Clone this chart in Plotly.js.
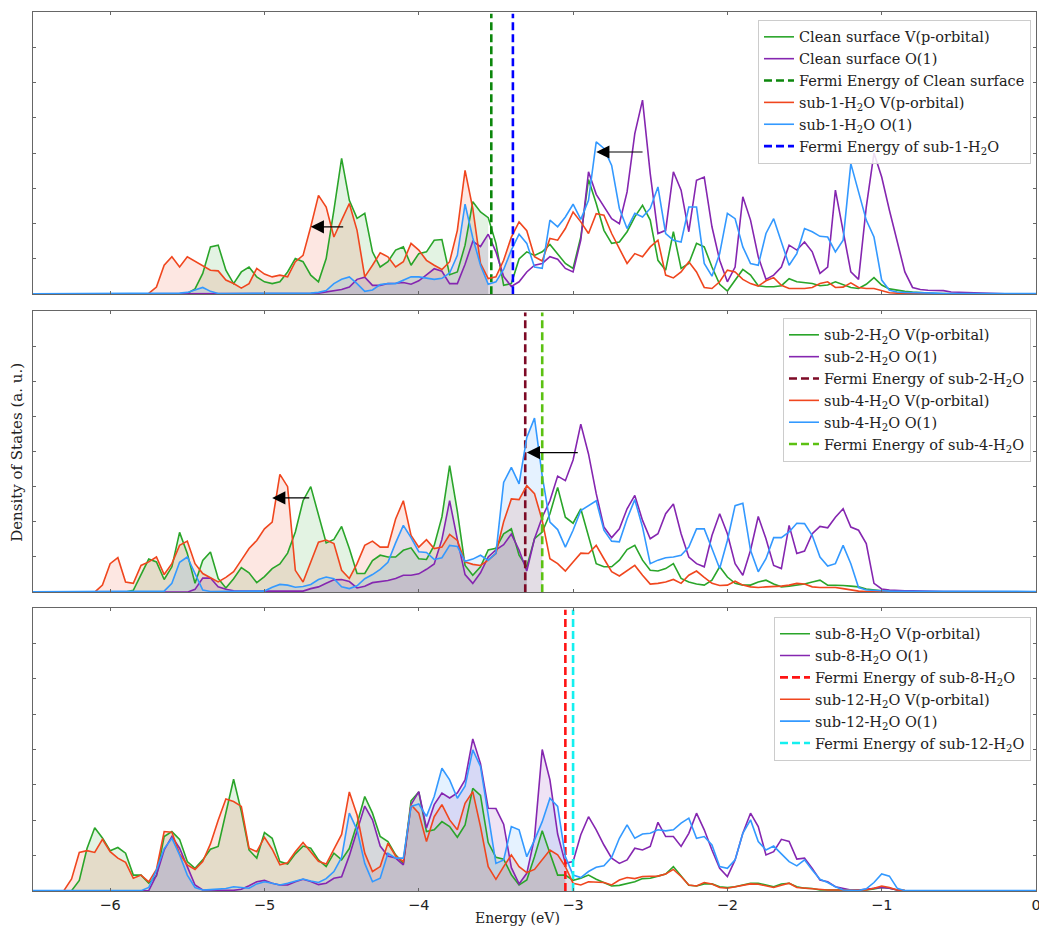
<!DOCTYPE html>
<html><head><meta charset="utf-8">
<script src="https://cdn.plot.ly/plotly-3.0.1.min.js"></script>
<style>html,body{margin:0;padding:0;background:#fff;overflow:hidden}#chart{width:1039px;height:926px}</style>
</head><body><div id="chart"></div>
<script>
// ---------- energy grid (eV) ----------
const energy = [
-6.50,-6.45,-6.40,-6.35,-6.30,-6.25,-6.20,-6.15,-6.10,-6.05,
-6.00,-5.95,-5.90,-5.85,-5.80,-5.75,-5.70,-5.65,-5.60,-5.55,
-5.50,-5.45,-5.40,-5.35,-5.30,-5.25,-5.20,-5.15,-5.10,-5.05,
-5.00,-4.95,-4.90,-4.85,-4.80,-4.75,-4.70,-4.65,-4.60,-4.55,
-4.50,-4.45,-4.40,-4.35,-4.30,-4.25,-4.20,-4.15,-4.10,-4.05,
-4.00,-3.95,-3.90,-3.85,-3.80,-3.75,-3.70,-3.65,-3.60,-3.55,
-3.50,-3.45,-3.40,-3.35,-3.30,-3.25,-3.20,-3.15,-3.10,-3.05,
-3.00,-2.95,-2.90,-2.85,-2.80,-2.75,-2.70,-2.65,-2.60,-2.55,
-2.50,-2.45,-2.40,-2.35,-2.30,-2.25,-2.20,-2.15,-2.10,-2.05,
-2.00,-1.95,-1.90,-1.85,-1.80,-1.75,-1.70,-1.65,-1.60,-1.55,
-1.50,-1.45,-1.40,-1.35,-1.30,-1.25,-1.20,-1.15,-1.10,-1.05,
-1.00,-0.95,-0.90,-0.85,-0.80,-0.75,-0.70,-0.65,-0.60,-0.55,
-0.50,-0.45,-0.40,-0.35,-0.30,-0.25,-0.20,-0.15,-0.10,-0.05,
0.00];

// ---------- Panel 1: clean surface vs sub-1-H2O ----------
const cleanV = [
0,0,0,0,0,0,0,0,0,0,
0,0,0,0,0,0,0,0,0,0,
0.02,0.15,0.59,1.34,1.39,0.68,0.30,0.63,0.77,0.49,
0.35,0.30,0.35,0.63,1.01,0.92,0.54,0.35,1.01,2.38,
3.85,2.66,2.15,2.29,1.20,0.77,0.92,1.25,1.34,0.82,
1.15,1.20,1.53,1.55,0.55,0.63,1.39,2.62,2.33,2.17,
1.44,0.25,0.30,1.00,1.20,1.10,1.20,1.41,1.15,0.87,
0.73,1.62,3.25,2.57,1.81,1.44,1.48,1.77,2.19,2.52,
2.10,0.96,0.68,1.77,0.73,0.87,1.44,1.34,0.77,0.28,
0.09,0.40,0.70,0.54,0.24,0.21,0.21,0.24,0.44,0.35,
0.32,0.30,0.24,0.26,0.35,0.26,0.19,0.16,0.28,0.47,
0.26,0.15,0.11,0.08,0.06,0.04,0.03,0.02,0.02,0.01,
0.01,0.01,0,0,0,0,0,0,0,0,
0];
const cleanO = [
0,0,0,0,0,0,0,0,0,0,
0,0,0,0,0,0,0,0,0,0,
0.01,0.01,0.02,0.02,0.01,0.01,0.01,0.01,0.01,0.01,
0.01,0.01,0.01,0.01,0.01,0.01,0.02,0.03,0.06,0.11,
0.13,0.20,0.42,0.48,0.25,0.25,0.30,0.31,0.33,0.28,
0.38,0.55,0.72,0.65,0.30,0.30,0.85,1.50,1.35,1.70,
1.20,0.50,0.22,0.35,0.63,0.82,0.87,1.06,0.99,0.73,
0.63,1.53,3.47,2.83,2.47,2.14,2.00,2.90,4.55,5.50,
3.42,1.72,1.81,3.47,2.95,1.77,3.23,3.32,1.91,0.96,
0.35,0.77,2.76,2.10,1.06,0.42,0.54,0.77,1.39,1.25,
1.48,1.20,0.59,0.77,2.95,1.81,0.63,0.42,2.47,4.00,
3.32,2.38,1.53,0.63,0.19,0.13,0.11,0.11,0.10,0.06,
0.05,0.04,0.05,0.03,0.02,0.02,0.01,0.01,0.01,0.01,
0.01];
const sub1V = [
0,0,0,0,0,0,0,0,0,0,
0,0,0,0,0,0.02,0.20,0.82,1.06,0.77,
1.06,0.94,0.82,0.68,0.66,0.40,0.30,0.17,0.30,0.73,
0.57,0.49,0.54,0.49,0.92,1.10,1.91,2.80,2.47,1.62,
2.10,2.57,1.81,0.49,0.82,1.17,1.06,0.77,0.92,1.44,
1.25,0.96,0.82,0.70,0.92,1.81,3.51,2.43,0.87,0.44,
0.49,0.96,1.62,2.05,1.80,1.06,0.94,1.58,1.53,1.86,
2.33,2.05,1.72,2.28,2.24,1.72,1.29,0.87,1.15,1.06,
1.34,1.53,0.54,0.46,0.63,0.92,0.63,0.19,0.16,0.35,
0.68,0.63,0.42,0.30,0.23,0.38,0.47,0.25,0.16,0.16,
0.16,0.19,0.30,0.35,0.19,0.20,0.32,0.19,0.16,0.16,
0.09,0.04,0.03,0.02,0.02,0.01,0.01,0,0,0,
0,0,0,0,0,0,0,0,0,0,
0];
const sub1O = [
0.01,0.01,0.01,0.01,0.01,0.01,0.01,0.01,0.01,0.01,
0.01,0.01,0.01,0.01,0.01,0.01,0.01,0.01,0.02,0.03,
0.05,0.12,0.19,0.08,0.02,0.02,0.02,0.02,0.02,0.02,
0.02,0.02,0.02,0.02,0.02,0.02,0.03,0.05,0.10,0.30,
0.42,0.49,0.30,0.08,0.12,0.27,0.30,0.30,0.40,0.49,
0.49,0.45,0.42,0.45,0.60,1.10,2.55,1.60,0.82,0.28,
0.35,0.70,1.25,1.70,1.44,0.77,0.73,2.10,1.91,2.19,
2.55,2.12,2.66,4.32,4.13,3.65,2.43,1.86,2.29,2.19,
2.43,3.04,1.72,1.53,1.48,2.47,2.47,0.87,0.51,1.15,
2.29,2.14,1.34,0.87,0.82,1.72,2.14,1.48,0.82,1.15,
1.86,1.77,1.64,1.62,1.20,1.53,3.70,2.90,2.10,1.62,
0.40,0.11,0.06,0.05,0.05,0.04,0.03,0.03,0.02,0.02,
0.02,0.02,0.02,0.02,0.02,0.02,0.02,0.02,0.02,0.02,
0.02];

// ---------- Panel 2: sub-2-H2O vs sub-4-H2O ----------
const sub2V = [
0,0,0,0,0,0,0,0,0,0,
0,0,0,0.05,0.48,0.94,0.86,0.36,0.72,1.70,
1.10,0.25,0.90,1.14,0.39,0.12,0.38,0.70,0.55,0.27,
0.44,0.67,0.80,1.11,1.71,2.60,3.00,2.18,1.40,1.50,
1.87,1.24,0.53,0.53,0.90,1.05,1.00,1.00,1.19,1.26,
0.95,0.93,1.33,2.14,3.60,2.30,0.76,0.48,0.72,1.20,
1.25,1.66,1.80,1.05,0.72,1.52,1.71,2.23,2.98,2.13,
1.96,2.37,1.57,0.81,0.72,0.72,0.91,1.21,1.33,0.91,
0.62,0.60,0.67,0.81,0.39,0.29,0.23,0.20,0.34,0.72,
0.43,0.25,0.20,0.20,0.29,0.34,0.23,0.15,0.17,0.20,
0.23,0.29,0.34,0.20,0.20,0.19,0.17,0.15,0.09,0.06,
0.04,0.03,0.02,0.01,0.01,0,0,0,0,0,
0,0,0,0,0,0,0,0,0,0,
0];
const sub2O = [
0,0,0,0,0,0,0,0,0,0,
0,0,0,0,0,0,0,0,0,0,
0,0.08,0.40,0.40,0.15,0.08,0.04,0.03,0.03,0.03,
0.03,0.03,0.03,0.03,0.03,0.03,0.10,0.15,0.25,0.35,
0.36,0.30,0.12,0.17,0.27,0.30,0.33,0.39,0.48,0.48,
0.52,0.65,0.80,1.50,2.60,1.50,0.50,0.25,0.55,1.00,
1.20,1.35,1.65,1.20,0.60,1.52,2.13,2.60,3.30,3.17,
3.76,4.78,3.93,2.80,1.85,1.55,1.80,2.37,2.75,2.04,
1.52,1.66,2.23,2.51,1.66,1.00,0.81,0.72,1.61,2.23,
1.66,0.81,0.48,1.19,2.15,1.52,0.76,0.67,1.90,1.10,
1.17,1.66,1.87,1.83,2.13,2.37,1.85,1.76,1.38,0.25,
0.09,0.06,0.04,0.04,0.04,0.03,0.03,0.02,0.02,0.02,
0.02,0.01,0.01,0.01,0.01,0.01,0.01,0.01,0.01,0.01,
0.01];
const sub4V = [
0,0,0,0,0,0,0,0,0,0.20,
0.81,0.98,0.29,0.25,0.76,0.86,1.00,0.50,0.81,1.33,
1.45,0.81,0.53,0.41,0.29,0.42,0.58,0.91,1.24,1.47,
1.80,1.99,3.35,3.00,0.62,0.29,0.86,1.42,1.48,1.38,
0.62,0.39,0.81,1.33,1.45,1.28,1.28,2.08,2.60,1.61,
1.28,1.49,1.24,1.28,1.64,1.47,0.86,0.79,0.76,0.91,
1.10,2.00,2.65,2.63,3.03,2.80,2.04,0.95,0.81,0.60,
0.86,1.11,1.10,1.33,0.95,0.58,0.46,0.62,0.76,0.48,
0.23,0.25,0.29,0.36,0.25,0.48,0.60,0.42,0.25,0.19,
0.20,0.31,0.20,0.15,0.13,0.15,0.15,0.17,0.20,0.25,
0.23,0.15,0.13,0.13,0.13,0.10,0.06,0.03,0.02,0.01,
0.01,0.01,0,0,0,0,0,0,0,0,
0,0,0,0,0,0,0,0,0,0,
0];
const sub4O = [
0.01,0.01,0.01,0.01,0.01,0.01,0.01,0.01,0.01,0.01,
0.01,0.01,0.01,0.01,0.01,0.01,0.01,0.03,0.25,0.85,
1.00,0.55,0.06,0.02,0.02,0.02,0.02,0.02,0.02,0.02,
0.03,0.14,0.22,0.20,0.14,0.16,0.22,0.36,0.43,0.38,
0.15,0.10,0.18,0.38,0.50,0.65,0.85,1.40,1.90,1.55,
1.15,1.13,0.93,0.98,1.33,1.30,0.88,0.94,1.05,0.91,
1.10,3.12,3.55,3.08,4.40,4.95,3.31,1.99,1.78,1.28,
1.76,2.32,2.46,2.60,1.76,1.45,1.43,2.09,2.63,1.85,
0.81,0.91,0.98,1.00,1.05,1.28,1.80,1.80,1.24,0.67,
1.47,2.46,2.53,1.19,0.58,0.95,1.55,1.55,1.71,1.96,
1.95,1.61,1.00,0.74,0.81,1.33,0.81,0.13,0.06,0.04,
0.04,0.03,0.03,0.02,0.02,0.02,0.02,0.02,0.02,0.02,
0.02,0.02,0.02,0.02,0.02,0.02,0.02,0.02,0.02,0.02,
0.02];

// ---------- Panel 3: sub-8-H2O vs sub-12-H2O ----------
const sub8V = [
0,0,0,0,0,0.01,0.30,1.20,1.79,1.50,
1.14,1.23,1.07,0.45,0.45,0.22,0.43,1.54,1.68,1.46,
0.83,0.64,0.88,1.18,1.26,2.20,3.16,2.25,1.16,0.93,
1.65,1.49,0.83,0.76,1.05,1.27,1.21,0.88,0.69,1.07,
0.88,1.20,1.90,2.67,2.20,1.54,1.40,1.02,0.78,2.55,
2.80,1.68,1.73,1.96,1.82,1.52,1.87,2.90,2.70,1.37,
0.95,0.90,0.46,0.17,0.31,0.97,1.70,1.07,0.45,0.45,
0.30,0.36,0.45,0.33,0.24,0.14,0.16,0.20,0.26,0.35,
0.36,0.42,0.48,0.69,0.41,0.16,0.14,0.20,0.20,0.12,
0.10,0.12,0.17,0.22,0.22,0.16,0.12,0.20,0.22,0.12,
0.08,0.07,0.03,0.03,0.03,0.03,0.03,0.03,0.03,0.06,
0.10,0.08,0.03,0.01,0,0,0,0,0,0,
0,0,0,0,0,0,0,0,0,0,
0];
const sub8O = [
0,0,0,0,0,0,0,0,0,0,
0,0,0,0,0,0.01,0.45,1.16,1.54,1.21,
0.69,0.17,0.03,0.02,0.02,0.02,0.02,0.05,0.15,0.26,
0.30,0.22,0.17,0.17,0.26,0.33,0.27,0.18,0.22,0.36,
0.40,1.00,1.70,2.40,2.01,1.27,0.99,0.93,0.74,2.44,
2.81,1.78,2.44,2.77,2.63,2.77,3.14,4.30,3.60,2.34,
2.33,1.89,0.66,0.20,0.50,1.50,4.00,3.14,1.61,0.78,
0.83,1.59,2.10,1.73,1.30,0.93,0.78,0.88,1.21,1.16,
1.26,1.94,1.54,1.54,1.26,1.63,2.20,1.73,1.16,0.64,
0.41,0.88,1.63,2.20,1.82,1.02,1.11,1.46,1.40,0.90,
0.93,0.64,0.31,0.26,0.12,0.07,0.03,0.03,0.05,0.08,
0.10,0.08,0.03,0.01,0,0,0,0,0,0,
0,0,0,0,0,0,0,0,0,0,
0];
const sub12V = [
0,0,0,0,0.01,0.34,1.09,1.14,1.09,1.46,
1.11,0.93,0.81,0.36,0.45,0.26,0.61,1.68,1.66,1.05,
0.74,0.61,0.83,1.33,2.00,2.60,2.53,2.39,1.21,1.11,
1.52,1.18,0.74,0.80,1.11,1.37,1.09,0.84,0.76,1.16,
1.60,2.80,2.15,1.07,0.55,0.69,1.35,0.99,0.83,2.44,
2.20,1.40,2.10,2.44,2.01,1.73,2.48,2.81,1.82,0.69,
0.33,0.69,1.02,0.69,0.52,0.61,0.88,1.16,1.02,0.69,
0.22,0.17,0.26,0.26,0.24,0.17,0.31,0.38,0.35,0.41,
0.42,0.42,0.48,0.61,0.41,0.17,0.14,0.24,0.20,0.10,
0.08,0.12,0.17,0.20,0.19,0.14,0.10,0.16,0.22,0.10,
0.08,0.05,0.04,0.03,0.03,0.03,0.03,0.03,0.03,0.08,
0.14,0.10,0.03,0.01,0,0,0,0,0,0,
0,0,0,0,0,0,0,0,0,0,
0];
const sub12O = [
0.01,0.01,0.01,0.01,0.01,0.01,0.01,0.01,0.01,0.01,
0.01,0.01,0.01,0.01,0.01,0.10,0.59,1.20,1.49,1.02,
0.45,0.10,0.03,0.04,0.05,0.07,0.12,0.10,0.08,0.20,
0.26,0.22,0.17,0.22,0.27,0.34,0.28,0.24,0.35,0.55,
0.95,2.20,1.73,0.78,0.26,0.36,1.07,0.93,0.93,2.39,
2.46,2.11,2.67,3.47,3.14,2.62,2.96,3.99,3.52,2.11,
0.78,0.88,1.82,1.73,0.97,1.44,1.96,2.62,2.39,0.97,
0.45,0.38,0.55,0.67,0.71,0.95,1.49,1.87,1.49,1.61,
1.63,1.73,1.70,1.73,1.92,2.06,1.49,1.54,1.30,0.69,
0.64,0.88,1.63,2.01,1.40,1.16,1.27,1.05,0.83,0.71,
0.88,0.59,0.33,0.24,0.12,0.03,0.01,0.01,0.06,0.24,
0.48,0.42,0.08,0.01,0.01,0.01,0.01,0.01,0.01,0.01,
0.01,0.01,0.01,0.01,0.01,0.01,0.01,0.01,0.01,0.01,
0.01];

// ---------- Fermi energies (eV) ----------
const fermiP1 = [-3.53, -3.39];
const fermiP2 = [-3.31, -3.20];
const fermiP3 = [-3.05, -3.00];

// ---------- legend labels ----------
const namesP1 = ['Clean surface V(p-orbital)','Clean surface O(1)','Fermi Energy of Clean surface',
  'sub-1-H<sub>2</sub>O V(p-orbital)','sub-1-H<sub>2</sub>O O(1)','Fermi Energy of sub-1-H<sub>2</sub>O'];
const namesP2 = ['sub-2-H<sub>2</sub>O V(p-orbital)','sub-2-H<sub>2</sub>O O(1)','Fermi Energy of sub-2-H<sub>2</sub>O',
  'sub-4-H<sub>2</sub>O V(p-orbital)','sub-4-H<sub>2</sub>O O(1)','Fermi Energy of sub-4-H<sub>2</sub>O'];
const namesP3 = ['sub-8-H<sub>2</sub>O V(p-orbital)','sub-8-H<sub>2</sub>O O(1)','Fermi Energy of sub-8-H<sub>2</sub>O',
  'sub-12-H<sub>2</sub>O V(p-orbital)','sub-12-H<sub>2</sub>O O(1)','Fermi Energy of sub-12-H<sub>2</sub>O'];

// ---------- shift arrows: [tailE, headE, level] ----------
const arrowsP1 = [[-4.48,-4.70,1.91],[-2.54,-2.85,4.03]];
const arrowsP2 = [[-4.70,-4.95,2.68],[-2.96,-3.30,3.97]];

[cleanV,cleanO,sub1V,sub1O,sub2V,sub2O,sub4V,sub4O,sub8V,sub8O,sub12V,sub12O].forEach((a,i)=>{
  if(a.length!==energy.length) throw new Error('series '+i+' has length '+a.length);
});

const C = {green:'#2aa52a', purple:'#8526b0', red:'#f0461e', blue:'#3399ff'};
function rgba(hex,a){const n=parseInt(hex.slice(1),16);return `rgba(${n>>16&255},${n>>8&255},${n&255},${a})`;}

const panels = [
  {xa:'x', ya:'y', lg:'legend', s:[cleanV,cleanO,sub1V,sub1O], f:fermiP1, fc:['#0c870c','#0000ff'], n:namesP1},
  {xa:'x2', ya:'y2', lg:'legend2', s:[sub2V,sub2O,sub4V,sub4O], f:fermiP2, fc:['#7d0a26','#5cc112'], n:namesP2},
  {xa:'x3', ya:'y3', lg:'legend3', s:[sub8V,sub8O,sub12V,sub12O], f:fermiP3, fc:['#ff1414','#14f0f0'], n:namesP3},
];
const lineCols = [C.green, C.purple, C.red, C.blue];

const traces = [];
panels.forEach(p=>{
  p.s.forEach((arr,i)=>{
    const ef = p.f[i<2?0:1];
    const xs=[], ys=[];
    energy.forEach((e,k)=>{ if(e<=ef+0.025){xs.push(e);ys.push(arr[k]);} });
    traces.push({x:xs,y:ys,xaxis:p.xa,yaxis:p.ya,type:'scatter',mode:'none',fill:'tozeroy',
      fillcolor:rgba(lineCols[i],0.13),showlegend:false,hoverinfo:'skip',legend:p.lg});
  });
  const order = [[0,'s'],[1,'s'],[0,'f'],[2,'s'],[3,'s'],[1,'f']];
  order.forEach((o,j)=>{
    if(o[1]==='s'){
      traces.push({x:energy,y:p.s[o[0]],xaxis:p.xa,yaxis:p.ya,type:'scatter',mode:'lines',
        line:{color:lineCols[o[0]],width:1.6},name:p.n[j],legend:p.lg});
    } else {
      const ef=p.f[o[0]];
      traces.push({x:[ef,ef],y:[0,7.95],xaxis:p.xa,yaxis:p.ya,type:'scatter',mode:'lines',
        line:{color:p.fc[o[0]],width:2.6,dash:'8px,4px'},name:p.n[j],legend:p.lg});
    }
  });
});

const xax = (show)=>({range:[-6.5,0],dtick:1,tick0:0,ticks:'inside',ticklen:3,tickcolor:'#666',
  showline:true,linecolor:'#666',linewidth:1.1,mirror:'ticks',showgrid:false,zeroline:false,
  ticklabeloverflow:'allow',
  showticklabels:show,tickfont:{family:'DejaVu Sans',size:14.5,color:'#222'}});
const yax = (dom)=>({domain:dom,range:[0,8],dtick:1,ticks:'inside',ticklen:3,tickcolor:'#666',
  showline:true,linecolor:'#666',linewidth:1.1,mirror:'ticks',showgrid:false,zeroline:false,showticklabels:false});
const leg = (y)=>({x:0.995,xanchor:'right',y:y,yanchor:'top',bgcolor:'rgba(255,255,255,0.85)',
  bordercolor:'#cccccc',borderwidth:1,font:{family:'DejaVu Serif',size:14.5,color:'#222'},tracegroupgap:0});

const ann = [];
function addArrows(list, xr, yr){
  list.forEach(a=>ann.push({x:a[1],y:a[2],ax:a[0],ay:a[2],xref:xr,yref:yr,axref:xr,ayref:yr,
    text:'',showarrow:true,arrowhead:2,arrowsize:2.2,arrowwidth:1.2,arrowcolor:'#000',standoff:0}));
}
addArrows(arrowsP1,'x','y');
addArrows(arrowsP2,'x2','y2');
ann.push({text:'Energy (eV)',xref:'paper',yref:'paper',x:0.483,y:-0.031,xanchor:'center',yanchor:'middle',
  showarrow:false,font:{family:'DejaVu Serif',size:14,color:'#222'}});
ann.push({text:'Density of States (a. u.)',xref:'paper',yref:'paper',x:-0.0155,y:0.499,textangle:-90,
  xanchor:'center',yanchor:'middle',showarrow:false,font:{family:'DejaVu Serif',size:15,color:'#222'}});

const layout = {
  width:1039,height:926,margin:{l:33,r:3,t:12,b:35},paper_bgcolor:'#fff',plot_bgcolor:'#fff',
  xaxis:Object.assign(xax(false),{anchor:'y'}),
  xaxis2:Object.assign(xax(false),{anchor:'y2'}),
  xaxis3:Object.assign(xax(true),{anchor:'y3'}),
  yaxis:Object.assign(yax([0.679,1]),{anchor:'x'}),
  yaxis2:Object.assign(yax([0.340,0.660]),{anchor:'x2'}),
  yaxis3:Object.assign(yax([0,0.322]),{anchor:'x3'}),
  legend:leg(0.991), legend2:leg(0.652), legend3:leg(0.312),
  annotations:ann, showlegend:true
};
Plotly.newPlot('chart',traces,layout,{staticPlot:true,displayModeBar:false});
</script></body></html>
